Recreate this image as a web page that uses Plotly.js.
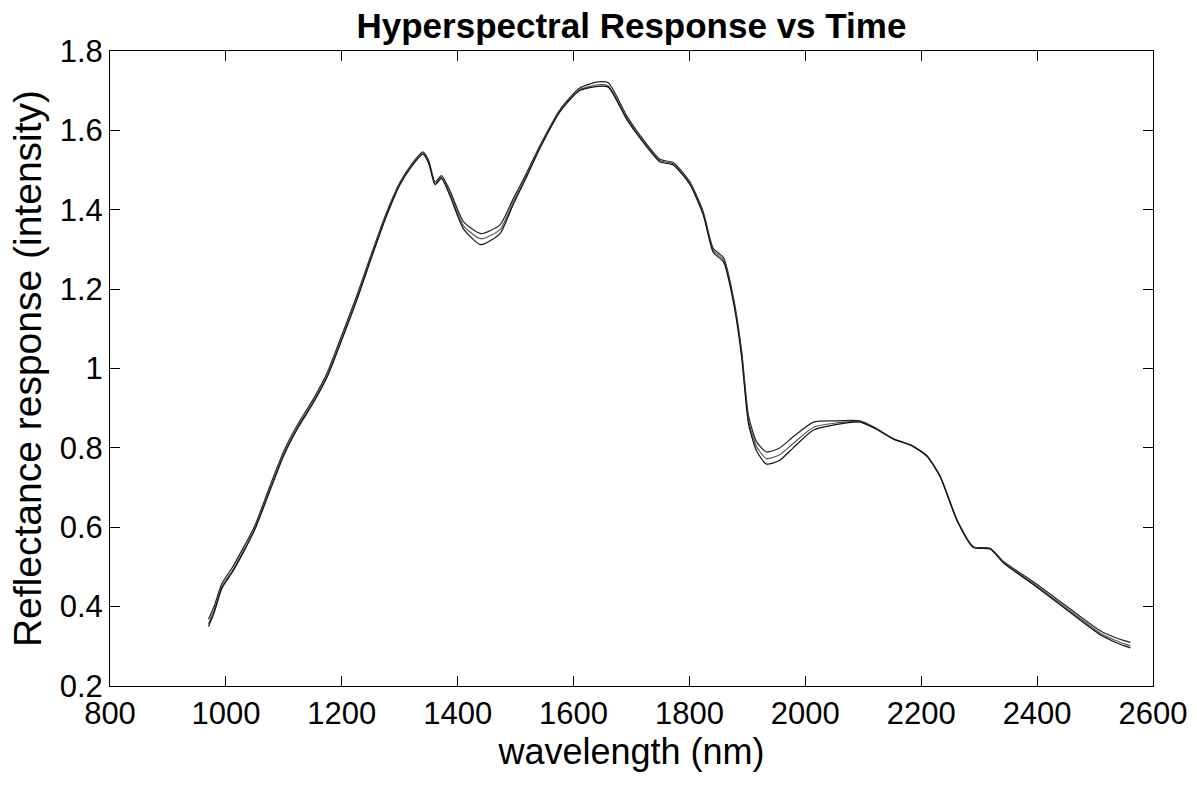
<!DOCTYPE html>
<html>
<head>
<meta charset="utf-8">
<script src="https://cdn.plot.ly/plotly-3.0.1.min.js"></script>
<style>html,body{margin:0;padding:0;background:#fff;}</style>
</head>
<body>
<div id="chart" style="width:1197px;height:789px;"></div>
<script>
// Wavelength samples (nm)
const wavelength = [970, 980, 993, 1010, 1030, 1050, 1075, 1100, 1125, 1150, 1175, 1200, 1225, 1250, 1275, 1300, 1320, 1340, 1350, 1361, 1372, 1387, 1410, 1440, 1473, 1496, 1520, 1542, 1577, 1610, 1642, 1660, 1692, 1715, 1749, 1772, 1801, 1824, 1841, 1859, 1876, 1890, 1902, 1916, 1933, 1955, 1979, 2014, 2050, 2094, 2120, 2152, 2184, 2210, 2233, 2262, 2290, 2319, 2342, 2394, 2451, 2509, 2540, 2561];

// Reflectance responses at three times
const responseT1 = [0.368, 0.402, 0.458, 0.496, 0.548, 0.604, 0.700, 0.792, 0.862, 0.921, 0.990, 1.084, 1.180, 1.284, 1.385, 1.468, 1.514, 1.546, 1.524, 1.470, 1.486, 1.447, 1.370, 1.340, 1.362, 1.428, 1.496, 1.562, 1.653, 1.706, 1.722, 1.720, 1.636, 1.587, 1.527, 1.519, 1.470, 1.394, 1.303, 1.279, 1.178, 1.045, 0.880, 0.815, 0.790, 0.799, 0.828, 0.865, 0.868, 0.868, 0.851, 0.823, 0.806, 0.780, 0.728, 0.618, 0.551, 0.547, 0.514, 0.462, 0.401, 0.339, 0.319, 0.310];
const responseT2 = [0.357, 0.392, 0.450, 0.488, 0.540, 0.598, 0.693, 0.786, 0.856, 0.915, 0.984, 1.077, 1.173, 1.278, 1.380, 1.465, 1.511, 1.543, 1.520, 1.466, 1.482, 1.440, 1.360, 1.327, 1.350, 1.420, 1.490, 1.558, 1.650, 1.702, 1.715, 1.712, 1.630, 1.583, 1.524, 1.516, 1.466, 1.390, 1.298, 1.273, 1.172, 1.037, 0.869, 0.803, 0.773, 0.782, 0.811, 0.852, 0.862, 0.866, 0.850, 0.823, 0.806, 0.780, 0.727, 0.617, 0.550, 0.546, 0.512, 0.458, 0.396, 0.333, 0.312, 0.301];
const responseT3 = [0.350, 0.386, 0.446, 0.484, 0.536, 0.594, 0.688, 0.781, 0.852, 0.911, 0.979, 1.072, 1.168, 1.274, 1.376, 1.462, 1.508, 1.540, 1.517, 1.463, 1.479, 1.434, 1.352, 1.312, 1.340, 1.414, 1.486, 1.555, 1.648, 1.700, 1.711, 1.709, 1.627, 1.580, 1.521, 1.513, 1.463, 1.386, 1.293, 1.268, 1.166, 1.030, 0.860, 0.792, 0.759, 0.768, 0.800, 0.845, 0.858, 0.865, 0.849, 0.822, 0.805, 0.779, 0.726, 0.616, 0.549, 0.545, 0.510, 0.455, 0.392, 0.329, 0.307, 0.296];

const xTicks = [800, 1000, 1200, 1400, 1600, 1800, 2000, 2200, 2400, 2600];
const yTicks = [0.2, 0.4, 0.6, 0.8, 1, 1.2, 1.4, 1.6, 1.8];

const mk = (y, color) => ({
  x: wavelength, y: y, type: 'scatter', mode: 'lines',
  line: {color: color, width: 1.2, shape: 'spline', smoothing: 0.6},
  hoverinfo: 'skip', showlegend: false
});

const data = [mk(responseT1, '#222'), mk(responseT2, '#555'), mk(responseT3, '#111')];

const font = 'Liberation Sans, Arial, Helvetica, sans-serif';
const layout = {
  width: 1197, height: 789,
  margin: {l: 110, r: 44, t: 51, b: 103},
  paper_bgcolor: '#fff', plot_bgcolor: '#fff',
  font: {family: font, color: '#000', size: 31},
  title: {text: '<b>Hyperspectral Response vs Time</b>', font: {family: font, size: 35, color: '#000'},
          x: 0.5275, xanchor: 'center', y: 0.967, yanchor: 'middle', yref: 'container'},
  xaxis: {
    range: [800, 2600], tickvals: xTicks, ticktext: xTicks.map(String),
    ticks: 'inside', ticklen: 10, tickwidth: 1, tickcolor: '#000',
    showline: true, linecolor: '#000', linewidth: 1, mirror: 'ticks',
    showgrid: false, zeroline: false,
    tickfont: {family: font, size: 31, color: '#000'},
    title: {text: 'wavelength (nm)', font: {family: font, size: 36, color: '#000'}, standoff: 6}
  },
  yaxis: {
    range: [0.2, 1.8], tickvals: yTicks, ticktext: yTicks.map(String),
    ticks: 'inside', ticklen: 10, tickwidth: 1, tickcolor: '#000',
    showline: true, linecolor: '#000', linewidth: 1, mirror: 'ticks',
    showgrid: false, zeroline: false,
    tickfont: {family: font, size: 31, color: '#000'},
    title: {text: 'Reflectance response (intensity)', font: {family: font, size: 39, color: '#000'}, standoff: 6}
  }
};

Plotly.newPlot('chart', data, layout, {staticPlot: true, displayModeBar: false});
</script>
</body>
</html>
